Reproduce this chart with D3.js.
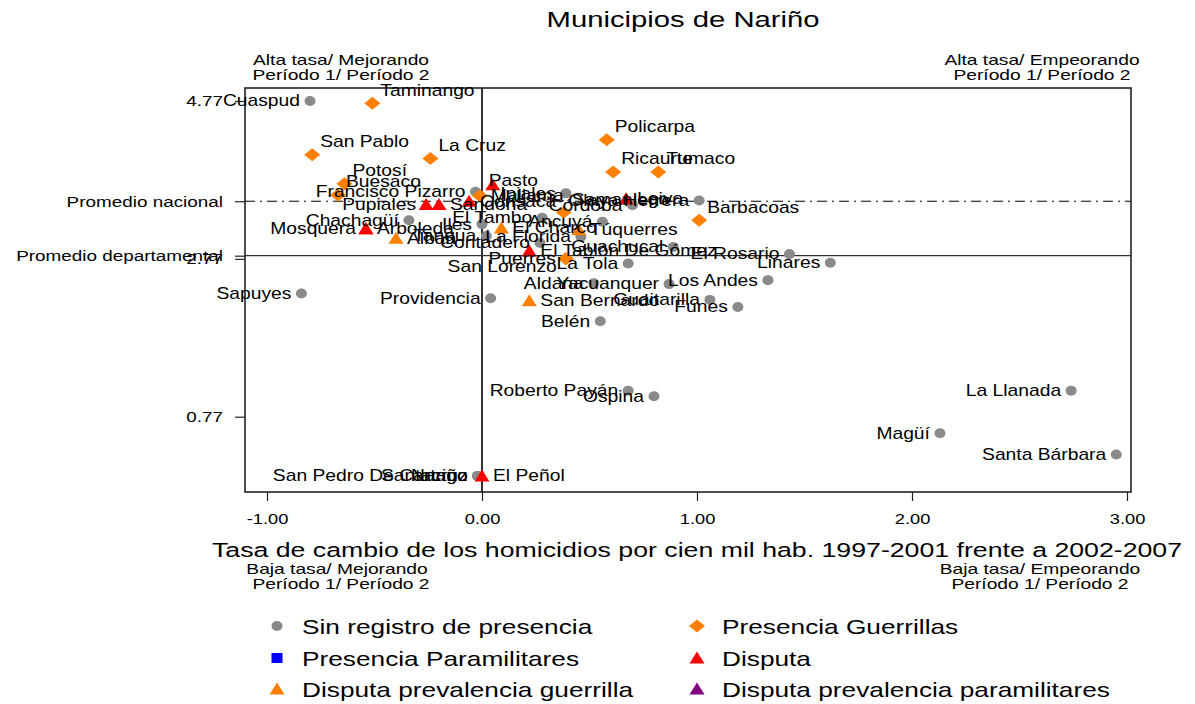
<!DOCTYPE html>
<html><head><meta charset="utf-8">
<script src="https://cdn.jsdelivr.net/npm/d3@7"></script>
<style>
body{margin:0;background:#fff}
svg{display:block}
text{font-family:"Liberation Sans",Arial,Helvetica,sans-serif;fill:#000}
</style>
</head><body>
<svg id="chart" width="1195" height="704"></svg>
<script>
// ---------------- DATA ----------------
const categories = ["Sin registro de presencia","Presencia Guerrillas","Presencia Paramilitares","Disputa","Disputa prevalencia guerrilla","Disputa prevalencia paramilitares"];

const municipios = [
 "Cuaspud","Sapuyes","Providencia","Chachagüí","San Pedro De Cartago","Santacruz","Nariño","Francisco Pizarro",
 "Ipiales","El Tambo","Iles","Ancuyá","Contadero","La Tola","Aldana","Yacuanquer","Los Andes","Guaitarilla",
 "Funes","Belén","Linares","El Rosario","Roberto Payán","Ospina","La Llanada","Magüí","Santa Bárbara",
 "Olaya Herrera","Córdoba","Guachucal","La Florida","Tangua",
 "Taminango","San Pablo","La Cruz","Potosí","Buesaco","Policarpa","Ricaurte","Tumaco","Barbacoas","Samaniego",
 "Mallama","San Lorenzo","Puerres",
 "Pasto","Pupiales","Sandoná","Consacá","Mosquera","Arboleda","El Tablón De Gómez","Leiva","El Peñol",
 "Albán","San Bernardo","Túquerres","El Charco"
];
// tasa de cambio (eje x)
const tasaCambio = [
 -0.80,-0.84,0.04,-0.34,-0.02,-0.02,-0.02,-0.03,
 0.39,0.28,0.00,0.56,0.27,0.68,0.52,0.87,1.33,1.06,
 1.19,0.55,1.62,1.43,0.68,0.80,2.74,2.13,2.95,
 1.01,0.70,0.89,0.46,0.02,
 -0.51,-0.79,-0.24,-0.64,-0.67,0.58,0.61,0.82,1.01,0.38,
 -0.01,0.39,0.39,
 0.05,-0.26,-0.20,-0.06,-0.54,-0.54,0.22,0.67,0.00,
 -0.40,0.22,0.45,0.09
];
// tasa de homicidios (eje y)
const tasaHomicidios = [
 4.77,2.33,2.27,3.26,0.02,0.02,0.02,3.62,
 3.60,3.29,3.21,3.24,2.97,2.71,2.46,2.45,2.50,2.25,
 2.16,1.98,2.72,2.83,1.10,1.03,1.10,0.56,0.29,
 3.51,3.45,2.92,3.05,3.06,
 4.74,4.09,4.04,3.72,3.58,4.28,3.87,3.87,3.26,3.36,
 3.57,2.77,2.77,
 3.71,3.46,3.46,3.50,3.15,3.15,2.87,3.53,0.02,
 3.03,2.24,3.14,3.16
];
// grupo (índice en categories)
const grupo = [
 0,0,0,0,0,0,0,0,
 0,0,0,0,0,0,0,0,0,0,
 0,0,0,0,0,0,0,0,0,
 0,0,0,0,0,
 1,1,1,1,1,1,1,1,1,1,
 1,1,1,
 3,3,3,3,3,3,3,3,3,
 4,4,4,4
];
// posición de la etiqueta (reloj, como mlabvposition)
const posEtiqueta = [
 9,9,9,9,9,9,9,9,
 9,9,9,9,9,9,9,9,9,9,
 9,9,9,9,9,9,9,9,9,
 9,9,9,9,9,
 1,1,1,1,1,1,1,1,1,1,
 3,8,9,
 2,9,3,3,9,3,3,3,3,
 3,3,3,3
];
const xTicks = [-1, 0, 1, 2, 3];
const yTicks = [0.77, 2.77, 4.77];
const promedioNacional = 3.50;
const promedioDepartamental = 2.81;
const yRefLabels = ["Promedio nacional","Promedio departamental"];

// ---------------- STYLE ----------------
const colors = ["#8a8a8a","#ff8000","#0000ff","#ff0000","#ff8000","#800080"];
const shapes = ["circle","diamond","square","triangle","triangle","triangle"];
const paths = {
  circle:"M5.5,0A5.5,5 0 1,1 -5.5,0A5.5,5 0 1,1 5.5,0Z",
  diamond:"M0,-6.5L8,0L0,6.5L-8,0Z",
  square:"M-5.5,-5L5.5,-5L5.5,5L-5.5,5Z",
  triangle:"M0,-6.5L7.5,5.5L-7.5,5.5Z"
};
const SX = 1.22;
const frame = {left:245, right:1131, top:88, bottom:492};

const svg = d3.select("#chart");
const x = d3.scaleLinear().domain([-1,3]).range([267,1127]);
const y = d3.scaleLinear().domain([0.77,4.77]).range([416.7,101]);

function stext(sel, px, py, str, size, anchor, sx){
  return sel.append("text")
    .attr("transform",`translate(${px},${py}) scale(${sx},1)`)
    .attr("font-size",size)
    .attr("text-anchor",anchor)
    .attr("dominant-baseline","central")
    .text(str);
}

// title
stext(svg, 683, 19, "Municipios de Nariño", 21.5, "middle", 1.36);

// corner notes
stext(svg, 341, 60, "Alta tasa/ Mejorando", 15, "middle", 1.28);
stext(svg, 341, 75, "Período 1/ Período 2", 15, "middle", 1.28);
stext(svg, 1042, 60, "Alta tasa/ Empeorando", 15, "middle", 1.28);
stext(svg, 1042, 75, "Período 1/ Período 2", 15, "middle", 1.28);
stext(svg, 337, 569, "Baja tasa/ Mejorando", 15, "middle", 1.28);
stext(svg, 341, 584, "Período 1/ Período 2", 15, "middle", 1.28);
stext(svg, 1040, 569, "Baja tasa/ Empeorando", 15, "middle", 1.28);
stext(svg, 1040, 584, "Período 1/ Período 2", 15, "middle", 1.28);

// reference lines
svg.append("line").attr("x1",frame.left).attr("x2",frame.right)
  .attr("y1",y(promedioNacional)).attr("y2",y(promedioNacional))
  .attr("stroke","#000").attr("stroke-width",1).attr("stroke-dasharray","10,5,2,5");
svg.append("line").attr("x1",frame.left).attr("x2",frame.right)
  .attr("y1",y(promedioDepartamental)).attr("y2",y(promedioDepartamental))
  .attr("stroke","#000").attr("stroke-width",1);
svg.append("line").attr("x1",x(0)).attr("x2",x(0))
  .attr("y1",frame.top).attr("y2",frame.bottom)
  .attr("stroke","#333").attr("stroke-width",2);

// frame
svg.append("rect").attr("x",frame.left).attr("y",frame.top)
  .attr("width",frame.right-frame.left).attr("height",frame.bottom-frame.top)
  .attr("fill","none").attr("stroke","#222").attr("stroke-width",1.6);

// x axis
const gx = svg.append("g").attr("transform",`translate(0,${frame.bottom})`)
  .call(d3.axisBottom(x).tickValues(xTicks).tickSize(9).tickPadding(12)
        .tickFormat(d=>d.toFixed(2)));
gx.select(".domain").remove();
gx.selectAll(".tick line").attr("stroke","#222").attr("stroke-width",1.2);
gx.selectAll(".tick text").attr("font-size",15).attr("font-family","Liberation Sans, Arial, sans-serif")
  .attr("fill","#000").attr("transform",`scale(${SX},1)`);

// y axis
const yAll = yTicks.concat([promedioNacional, promedioDepartamental]);
const gy = svg.append("g").attr("transform",`translate(${frame.left},0)`)
  .call(d3.axisLeft(y).tickValues(yAll).tickSize(10).tickPadding(12)
        .tickFormat(d=> d===promedioNacional ? yRefLabels[0] : d===promedioDepartamental ? yRefLabels[1] : d.toFixed(2)));
gy.select(".domain").remove();
gy.selectAll(".tick line").attr("stroke","#222").attr("stroke-width",1.2);
gy.selectAll(".tick text").attr("font-size",15.5).attr("font-family","Liberation Sans, Arial, sans-serif")
  .attr("fill","#000").attr("x",-22/SX).attr("transform",`scale(${SX},1)`);

// x axis title
stext(svg, 697, 550, "Tasa de cambio de los homicidios por cien mil hab. 1997-2001 frente a 2002-2007", 20.3, "middle", 1.315);

// markers
const data = municipios.map((n,i)=>({n, x:tasaCambio[i], y:tasaHomicidios[i], g:grupo[i], p:posEtiqueta[i]}));
svg.append("g").selectAll("path").data(data).join("path")
  .attr("d",d=>paths[shapes[d.g]])
  .attr("transform",d=>`translate(${x(d.x)},${y(d.y)})`)
  .attr("fill",d=>colors[d.g]);

// labels
const lab = svg.append("g");
data.forEach(d=>{
  const px = x(d.x), py = y(d.y);
  let lx=px, ly=py, anc="start";
  if(d.p===9){lx=px-10; anc="end";}
  else if(d.p===3){lx=px+11;}
  else if(d.p===2){lx=px-4; ly=py-4;}
  else if(d.p===1){lx=px+8; ly=py-13;}
  else if(d.p===8){lx=px-9; ly=py+8; anc="end";}
  else if(d.p===12){ly=py-13; anc="middle";}
  stext(lab, lx, ly, d.n, 15.8, anc, SX);
});

// legend
const legX = [277, 697], legY = [627, 659, 690];
categories.forEach((c,i)=>{
  const col = i%2, row = Math.floor(i/2);
  const lg = svg.append("g");
  lg.append("path").attr("d",paths[shapes[i]])
    .attr("transform",`translate(${legX[col]},${legY[row]-1})`).attr("fill",colors[i]);
  stext(lg, legX[col]+25, legY[row], c, 20.2, "start", 1.3);
});
</script>
</body></html>
